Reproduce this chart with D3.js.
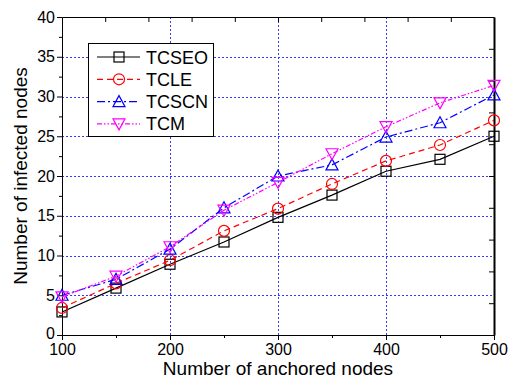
<!DOCTYPE html>
<html>
<head>
<meta charset="utf-8">
<script src="https://cdn.jsdelivr.net/npm/d3@7"></script>
<style>
  body { margin: 0; background: #fff; }
  svg { display: block; font-family: Arial, "Liberation Sans", sans-serif; }
</style>
</head>
<body>
<svg id="chart" width="511" height="379"></svg>
<script>
const anchored = [100, 150, 200, 250, 300, 350, 400, 450, 500];
const tcseo  = [2.9, 5.9, 8.9, 11.7, 14.8, 17.6, 20.6, 22.1, 25.0];
const tcle   = [3.4, 6.5, 9.4, 13.1, 15.9, 19.0, 21.9, 23.9, 27.0];
const tcscn  = [5.0, 7.0, 10.8, 16.0, 20.0, 21.4, 24.9, 26.7, 30.2];
const tcm    = [4.8, 7.4, 11.1, 15.7, 19.2, 22.8, 26.2, 29.2, 31.4];
const seriesNames = ["TCSEO", "TCLE", "TCSCN", "TCM"];
const yTicks = [0, 5, 10, 15, 20, 25, 30, 35, 40];
const xTicks = [100, 200, 300, 400, 500];

const series = [
  { name: seriesNames[0], values: tcseo, color: "#000", dash: null, marker: "square" },
  { name: seriesNames[1], values: tcle, color: "#ff0000", dash: "6,4", marker: "circle" },
  { name: seriesNames[2], values: tcscn, color: "#0000ff", dash: "8,3,2,3", marker: "up" },
  { name: seriesNames[3], values: tcm, color: "#ff00ff", dash: "5,2,1.5,2,1.5,2", marker: "down" }
];

const m = { left: 62, right: 494, top: 17, bottom: 335 };
const x = d3.scaleLinear().domain([100, 500]).range([m.left, m.right]);
const y = d3.scaleLinear().domain([0, 40]).range([m.bottom, m.top]);
const svg = d3.select("#chart");

// grid
const grid = svg.append("g").attr("stroke", "#3a3aff").attr("stroke-width", 1)
  .attr("stroke-dasharray", "2,2");
grid.selectAll(".gy").data(yTicks.slice(1, -1)).enter().append("line")
  .attr("x1", m.left).attr("x2", m.right)
  .attr("y1", d => Math.round(y(d)) + 0.5).attr("y2", d => Math.round(y(d)) + 0.5);
grid.selectAll(".gx").data(xTicks.slice(1, -1)).enter().append("line")
  .attr("y1", m.top).attr("y2", m.bottom)
  .attr("x1", d => Math.round(x(d)) + 0.5).attr("x2", d => Math.round(x(d)) + 0.5);

// axes
const axisFont = g => g.selectAll("text").attr("font-size", 16).attr("fill", "#000")
  .attr("font-family", "Arial, 'Liberation Sans', sans-serif");

const yAxis = svg.append("g").attr("transform", `translate(${m.left},0)`)
  .call(d3.axisLeft(y).tickValues(yTicks).tickSize(5).tickPadding(2));
yAxis.call(axisFont);
yAxis.selectAll("text").attr("dy", d => d === 0 ? "0.2em" : "0.32em");
svg.append("g").attr("transform", `translate(${m.left},0)`)
  .call(d3.axisLeft(y).tickValues(d3.range(2.5, 40, 5)).tickSize(3).tickFormat(""))
  .select(".domain").remove();

const xAxis = svg.append("g").attr("transform", `translate(0,${m.bottom})`)
  .call(d3.axisBottom(x).tickValues(xTicks).tickSize(5).tickPadding(4));
xAxis.call(axisFont);
svg.append("g").attr("transform", `translate(0,${m.bottom})`)
  .call(d3.axisBottom(x).tickValues([150, 250, 350, 450]).tickSize(3).tickFormat(""))
  .select(".domain").remove();

svg.append("g").attr("transform", `translate(0,${m.top})`)
  .call(d3.axisTop(x).tickValues(d3.range(140, 500, 40)).tickSize(-5).tickSizeOuter(0).tickFormat(""));
const rAxis = svg.append("g").attr("transform", `translate(${m.right},0)`)
  .call(d3.axisRight(y).tickValues(d3.range(4, 40, 4)).tickSize(-5).tickSizeOuter(0).tickFormat(""));
rAxis.select(".domain").attr("stroke-width", 2);
svg.selectAll(".domain, .tick line").attr("stroke", "#000");

// axis titles
svg.append("text").attr("x", 278).attr("y", 375).attr("text-anchor", "middle")
  .attr("font-size", 19).text("Number of anchored nodes");
svg.append("text").attr("transform", `translate(27,${(m.top + m.bottom) / 2}) rotate(-90)`)
  .attr("text-anchor", "middle").attr("font-size", 19).text("Number of infected nodes");

// markers
function drawMarker(g, type, color) {
  const s = 5;
  if (type === "square") {
    g.append("rect").attr("x", -s).attr("y", -s).attr("width", 2 * s).attr("height", 2 * s);
  } else if (type === "circle") {
    g.append("circle").attr("r", s + 0.5);
  } else if (type === "up") {
    g.append("path").attr("d", `M0,${-s - 1}L${s + 1},${s}L${-s - 1},${s}Z`);
  } else {
    g.append("path").attr("d", `M0,${s + 1}L${s + 1},${-s}L${-s - 1},${-s}Z`);
  }
  g.selectAll("*").attr("fill", "none").attr("stroke", color).attr("stroke-width", 1.2);
}

const line = d3.line().x((d, i) => x(anchored[i])).y(d => y(d));
series.forEach(s => {
  svg.append("path").datum(s.values).attr("d", line)
    .attr("fill", "none").attr("stroke", s.color).attr("stroke-width", 1.2)
    .attr("stroke-dasharray", s.dash);
  s.values.forEach((v, i) => {
    const g = svg.append("g").attr("transform", `translate(${x(anchored[i])},${y(v)})`);
    drawMarker(g, s.marker, s.color);
  });
});

// legend
const legend = svg.append("g").attr("transform", "translate(88,43)");
legend.append("rect").attr("x", 0.5).attr("y", 0.5).attr("width", 125).attr("height", 93)
  .attr("fill", "#fff").attr("stroke", "#000").attr("stroke-width", 1);
series.forEach((s, i) => {
  const yy = 14 + i * 22.3;
  legend.append("line").attr("x1", 9).attr("x2", 52).attr("y1", yy).attr("y2", yy)
    .attr("stroke", s.color).attr("stroke-width", 1.2).attr("stroke-dasharray", s.dash);
  const g = legend.append("g").attr("transform", `translate(31,${yy})`);
  drawMarker(g, s.marker, s.color);
  legend.append("text").attr("x", 58).attr("y", yy + 6.5).attr("font-size", 18).text(s.name);
});
</script>
</body>
</html>
